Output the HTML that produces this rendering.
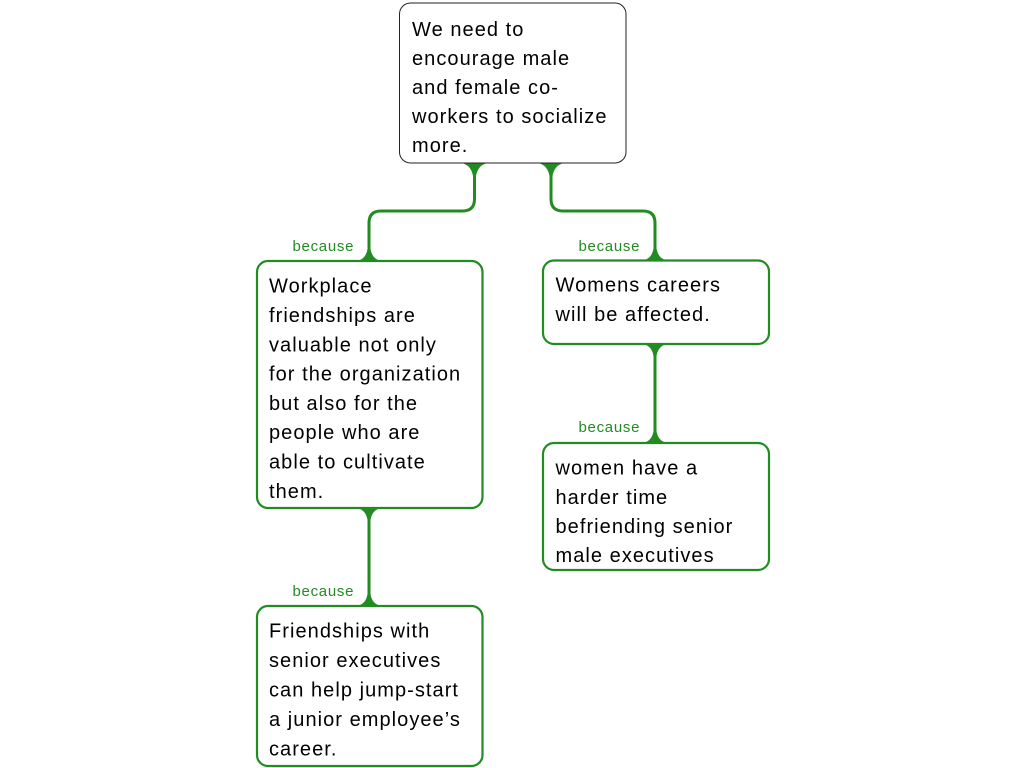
<!DOCTYPE html>
<html>
<head>
<meta charset="utf-8">
<style>
  html, body { margin: 0; padding: 0; background: #ffffff; }
  body { width: 1024px; height: 768px; overflow: hidden; }
  svg { display: block; }
  .t { font-family: "Liberation Sans", Arial, sans-serif; font-size: 20px; letter-spacing: 1.05px; fill: #000; }
  .b { font-family: "Liberation Sans", Arial, sans-serif; font-size: 15px; letter-spacing: 0.7px; fill: #228B22; }
</style>
</head>
<body>
<svg width="1024" height="768" viewBox="0 0 1024 768" xmlns="http://www.w3.org/2000/svg">
  <!-- connectors -->
  <g fill="none" stroke="#228B22" stroke-width="3">
    <path d="M474.5 163 V199 Q474.5 211 462.5 211 H381 Q369 211 369 223 V261"/>
    <path d="M551 163 V199 Q551 211 563 211 H643 Q655 211 655 223 V260.5"/>
    <path d="M369 508 V606"/>
    <path d="M655 344 V443"/>
  </g>
  <!-- flares -->
  <g fill="#228B22">
    <path d="M461.5 163 Q471 165 473 176 L476 176 Q478 165 487.5 163 Z"/>
    <path d="M538 163 Q547.5 165 549.5 176 L552.5 176 Q554.5 165 564 163 Z"/>
    <path d="M357 261 Q366 259 367.5 249 L370.5 249 Q372 259 381 261 Z"/>
    <path d="M643 260.5 Q652 258.5 653.5 248.5 L656.5 248.5 Q658 258.5 667 260.5 Z"/>
    <path d="M357 508 Q366 510 367.5 520 L370.5 520 Q372 510 381 508 Z"/>
    <path d="M357 606 Q366 604 367.5 594 L370.5 594 Q372 604 381 606 Z"/>
    <path d="M643 344 Q652 346 653.5 356 L656.5 356 Q658 346 667 344 Z"/>
    <path d="M643 443 Q652 441 653.5 431 L656.5 431 Q658 441 667 443 Z"/>
  </g>

  <!-- boxes -->
  <rect x="399.5" y="3" width="226.5" height="160" rx="11" ry="11" fill="#fff" stroke="#222" stroke-width="1"/>
  <rect x="257" y="261" width="225.5" height="247" rx="11" ry="11" fill="#fff" stroke="#228B22" stroke-width="2.2"/>
  <rect x="543" y="260.5" width="226" height="83.5" rx="11" ry="11" fill="#fff" stroke="#228B22" stroke-width="2.2"/>
  <rect x="543" y="443" width="226" height="127" rx="11" ry="11" fill="#fff" stroke="#228B22" stroke-width="2.2"/>
  <rect x="257" y="606" width="225.5" height="160" rx="11" ry="11" fill="#fff" stroke="#228B22" stroke-width="2.2"/>

  <!-- because labels -->
  <text class="b" x="292.5" y="251">because</text>
  <text class="b" x="578.5" y="251">because</text>
  <text class="b" x="578.5" y="432">because</text>
  <text class="b" x="292.5" y="596">because</text>

  <!-- top box text -->
  <text class="t" x="412" y="36">We need to</text>
  <text class="t" x="412" y="65">encourage male</text>
  <text class="t" x="412" y="94">and female co-</text>
  <text class="t" x="412" y="123">workers to socialize</text>
  <text class="t" x="412" y="152">more.</text>

  <!-- left box text -->
  <text class="t" x="269" y="292.7">Workplace</text>
  <text class="t" x="269" y="322">friendships are</text>
  <text class="t" x="269" y="351.3">valuable not only</text>
  <text class="t" x="269" y="380.6">for the organization</text>
  <text class="t" x="269" y="409.9">but also for the</text>
  <text class="t" x="269" y="439.2">people who are</text>
  <text class="t" x="269" y="468.5">able to cultivate</text>
  <text class="t" x="269" y="497.8">them.</text>

  <!-- left lower text -->
  <text class="t" x="269" y="637.7">Friendships with</text>
  <text class="t" x="269" y="667.2">senior executives</text>
  <text class="t" x="269" y="696.7">can help jump-start</text>
  <text class="t" x="269" y="726.2">a junior employee’s</text>
  <text class="t" x="269" y="755.7">career.</text>

  <!-- right box text -->
  <text class="t" x="555.5" y="291.5">Womens careers</text>
  <text class="t" x="555.5" y="321">will be affected.</text>

  <!-- right lower text -->
  <text class="t" x="555.5" y="474.5">women have a</text>
  <text class="t" x="555.5" y="503.8">harder time</text>
  <text class="t" x="555.5" y="533">befriending senior</text>
  <text class="t" x="555.5" y="562.2">male executives</text>
</svg>
</body>
</html>
